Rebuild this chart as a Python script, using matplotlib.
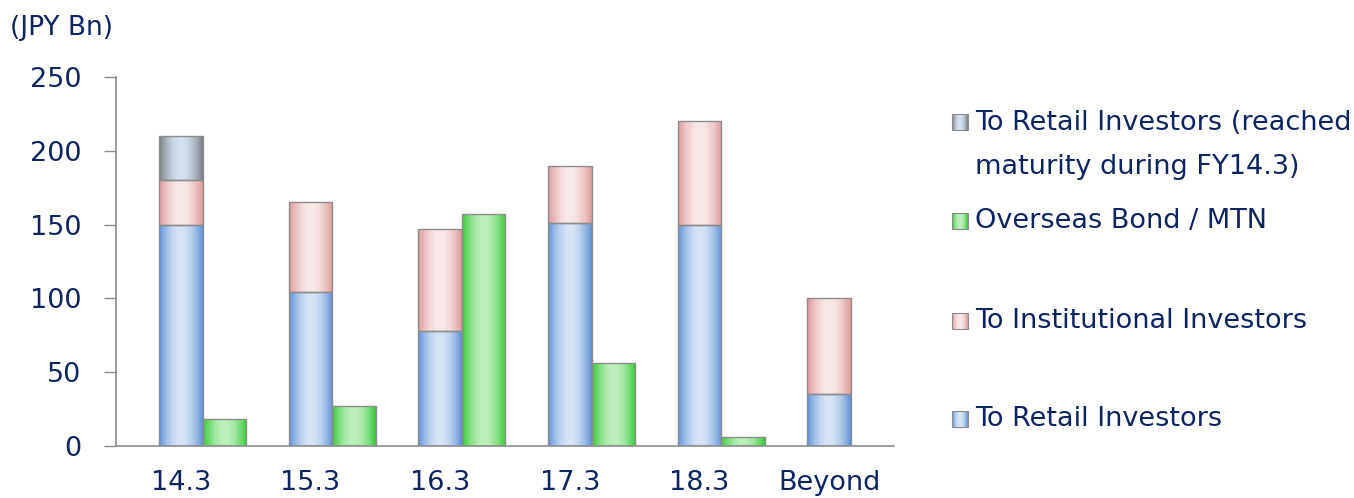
import numpy as np
import matplotlib
matplotlib.use("Agg")
import matplotlib.pyplot as plt
from matplotlib.colors import to_rgb

# data (JPY Bn)
categories = ["14.3", "15.3", "16.3", "17.3", "18.3", "Beyond"]
retail = [150, 104, 78, 151, 150, 35]
institutional = [30, 61, 69, 39, 70, 65]
retail_matured = [30, 0, 0, 0, 0, 0]
overseas = [18, 27, 157, 56, 6, 0]

legend_labels = [
    "To Retail Investors (reached\nmaturity during FY14.3)",
    "Overseas Bond / MTN",
    "To Institutional Investors",
    "To Retail Investors",
]

TEXT = "#0d2461"
EDGE = "#8c8c8c"
# (edge colour, centre colour) of each horizontal gradient
C_RETAIL = ("#5f8fd6", "#d6e4f4")
C_INST = ("#db9898", "#f8e9e9")
C_MATURED = ("#7a7d82", "#d3e1f1")
C_GREEN = ("#34c934", "#bdefbd")


def gradient_img(cols, n=64):
    t = np.linspace(0, 1, n)
    w = np.sin(np.pi * t) ** 0.9
    a, b = np.array(to_rgb(cols[0])), np.array(to_rgb(cols[1]))
    row = a[None, :] * (1 - w[:, None]) + b[None, :] * w[:, None]
    return row[None, :, :]


def fill_bars(ax, bars, cols):
    img = gradient_img(cols)
    for p in bars:
        if p.get_height() <= 0:
            continue
        x0, y0 = p.get_x(), p.get_y()
        im = ax.imshow(img, extent=(x0, x0 + p.get_width(), y0, y0 + p.get_height()),
                       aspect="auto", interpolation="bilinear", zorder=2)
        im.set_clip_path(p)


W, H = 1354, 498
fig = plt.figure(figsize=(W / 100, H / 100), dpi=100)
ax = fig.add_axes([116 / W, (H - 446) / H, 778 / W, 369 / H])

x = np.arange(len(categories))
bw = 0.335
b1 = ax.bar(x, retail, bw, color="none", edgecolor=EDGE, linewidth=1.0, zorder=3)
b2 = ax.bar(x, institutional, bw, bottom=retail, color="none",
            edgecolor=EDGE, linewidth=1.0, zorder=3)
bottom3 = [r + i for r, i in zip(retail, institutional)]
b3 = ax.bar(x, retail_matured, bw, bottom=bottom3, color="none",
            edgecolor=EDGE, linewidth=1.0, zorder=3)
b4 = ax.bar(x + bw, overseas, bw, color="none", edgecolor=EDGE,
            linewidth=1.0, zorder=3)
for bars, cols in [(b1, C_RETAIL), (b2, C_INST), (b3, C_MATURED), (b4, C_GREEN)]:
    for p in bars:
        if p.get_height() <= 0:
            p.set_visible(False)
    fill_bars(ax, bars, cols)

ax.set_xlim(-0.5, len(categories) - 0.5)
ax.set_ylim(0, 250)
ax.set_yticks(range(0, 251, 50))
ax.set_xticks(x)
ax.set_xticklabels(categories)
ax.tick_params(axis="y", length=9, width=1, color=EDGE, labelsize=19.5,
               labelcolor=TEXT, pad=16)
ax.tick_params(axis="x", length=0, labelsize=19.5, labelcolor=TEXT, pad=17)
for s in ["top", "right"]:
    ax.spines[s].set_visible(False)
for s in ["left", "bottom"]:
    ax.spines[s].set_color(EDGE)
    ax.spines[s].set_linewidth(1.2)

fig.text(10 / W, 1 - 28 / H, "(JPY Bn)", fontsize=19, color=TEXT, va="center")

# legend drawn by hand to match the uneven spacing
lax = fig.add_axes([0, 0, 1, 1])
lax.set_xlim(0, W)
lax.set_ylim(H, 0)
lax.axis("off")
leg_cols = [C_MATURED, C_GREEN, C_INST, C_RETAIL]
leg_y = [122, 221, 321, 419]
for lab, cols, yy in zip(legend_labels, leg_cols, leg_y):
    sq = plt.Rectangle((952, yy - 8), 16, 16, facecolor="none", edgecolor=EDGE,
                       linewidth=0.8, zorder=3)
    lax.add_patch(sq)
    im = lax.imshow(gradient_img(cols), extent=(952, 968, yy + 8, yy - 8),
                    aspect="auto", interpolation="bilinear", zorder=2)
    im.set_clip_path(sq)
    if "\n" in lab:
        lax.text(975, yy - 12, lab, fontsize=19.5, color=TEXT, va="top", linespacing=1.9)
    else:
        lax.text(975, yy, lab, fontsize=19.5, color=TEXT, va="center")

fig.savefig("out.png", dpi=100)
